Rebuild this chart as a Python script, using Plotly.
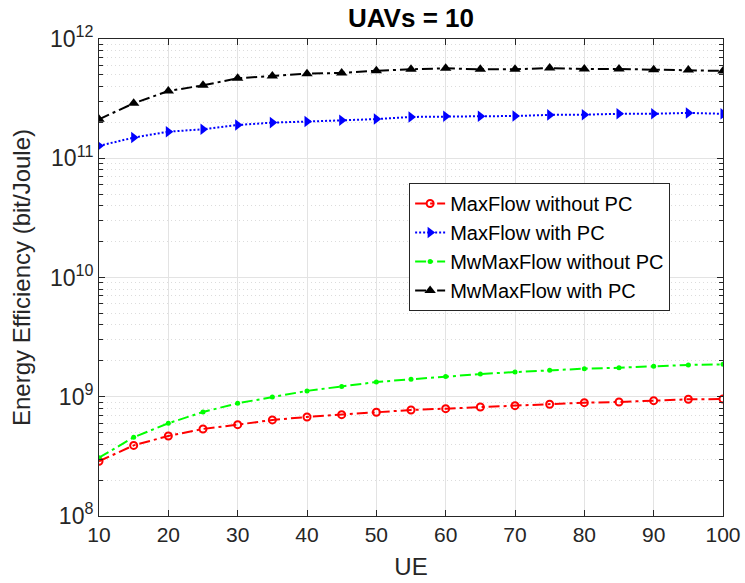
import plotly.graph_objects as go

ue = [10, 15, 20, 25, 30, 35, 40, 45, 50, 55, 60, 65, 70, 75, 80, 85, 90, 95, 100]

maxflow_without_pc = [2.88e8, 3.91e8, 4.69e8, 5.37e8, 5.83e8, 6.39e8, 6.77e8, 7.08e8, 7.41e8, 7.75e8,
                      7.95e8, 8.21e8, 8.42e8, 8.65e8, 8.92e8, 9.04e8, 9.27e8, 9.52e8, 9.57e8]
maxflow_with_pc = [1.27e11, 1.49e11, 1.67e11, 1.75e11, 1.90e11, 1.99e11, 2.03e11, 2.08e11, 2.13e11, 2.22e11,
                   2.25e11, 2.25e11, 2.26e11, 2.31e11, 2.32e11, 2.36e11, 2.36e11, 2.40e11, 2.36e11]
mwmaxflow_without_pc = [3.08e8, 4.57e8, 5.99e8, 7.45e8, 8.81e8, 9.95e8, 1.12e9, 1.22e9, 1.33e9, 1.40e9,
                        1.48e9, 1.55e9, 1.61e9, 1.67e9, 1.72e9, 1.75e9, 1.80e9, 1.85e9, 1.87e9]
mwmaxflow_with_pc = [2.12e11, 2.89e11, 3.66e11, 4.09e11, 4.68e11, 4.89e11, 5.12e11, 5.19e11, 5.42e11, 5.57e11,
                     5.68e11, 5.57e11, 5.57e11, 5.71e11, 5.60e11, 5.60e11, 5.53e11, 5.50e11, 5.40e11]

series_names = ["MaxFlow without PC", "MaxFlow with PC", "MwMaxFlow without PC", "MwMaxFlow with PC"]
title_text = "UAVs = 10"
x_label = "UE"
y_label = "Energy Efficiency (bit/Joule)"
x_ticks = [10, 20, 30, 40, 50, 60, 70, 80, 90, 100]
y_exponents = [8, 9, 10, 11, 12]

FONT = "Liberation Sans, Arial, Helvetica, sans-serif"
AX = "#262626"
DASHDOT = "11px,4px,3px,4px"

fig = go.Figure()
fig.add_trace(go.Scatter(
    x=ue, y=maxflow_without_pc, name=series_names[0], mode="lines+markers",
    line=dict(color="#ff0000", width=2, dash=DASHDOT),
    marker=dict(symbol="circle-open", size=7, color="#ff0000", line=dict(width=2, color="#ff0000"))))
fig.add_trace(go.Scatter(
    x=ue, y=maxflow_with_pc, name=series_names[1], mode="lines+markers",
    line=dict(color="#0000ff", width=2, dash="2px,2px"),
    marker=dict(symbol="triangle-right", size=10, color="#0000ff")))
fig.add_trace(go.Scatter(
    x=ue, y=mwmaxflow_without_pc, name=series_names[2], mode="lines+markers",
    line=dict(color="#00ff00", width=2, dash=DASHDOT),
    marker=dict(symbol="circle", size=5, color="#00ff00")))
fig.add_trace(go.Scatter(
    x=ue, y=mwmaxflow_with_pc, name=series_names[3], mode="lines+markers",
    line=dict(color="#000000", width=2, dash=DASHDOT),
    marker=dict(symbol="triangle-up", size=10, color="#000000")))

minor_vals = [m * 10 ** e for e in y_exponents[:-1] for m in range(2, 10)]

fig.update_layout(
    width=745, height=583,
    margin=dict(l=99, r=22, t=39, b=67, autoexpand=False),
    paper_bgcolor="white", plot_bgcolor="white",
    font=dict(family=FONT, color=AX, size=21),
    title=dict(text="<b>" + title_text + "</b>", x=(99 + 723) / 2 / 745, xanchor="center",
               y=1 - 18 / 583, yanchor="middle", font=dict(size=26, color="#000000")),
    showlegend=True,
    legend=dict(x=0.497, y=0.698, xanchor="left", yanchor="top",
                bgcolor="white", bordercolor=AX, borderwidth=1,
                font=dict(size=20, color="#000000"), tracegroupgap=0),
    xaxis=dict(range=[10, 100], tickvals=x_ticks, ticktext=[str(t) for t in x_ticks],
               automargin=False,
               ticks="inside", ticklen=6, tickcolor=AX, showline=True, linecolor=AX, linewidth=1,
               mirror="ticks", showgrid=True, gridcolor="#e3e3e3", gridwidth=1, zeroline=False,
               tickfont=dict(size=21, color=AX),
               title=dict(text=x_label, font=dict(size=24, color=AX), standoff=12)),
    yaxis=dict(type="log", range=[8, 12], tickvals=[10 ** e for e in y_exponents],
               ticktext=["10<sup>%d</sup>" % e for e in y_exponents],
               automargin=False,
               ticks="inside", ticklen=6, tickcolor=AX, showline=True, linecolor=AX, linewidth=1,
               mirror="allticks", showgrid=True, gridcolor="#e3e3e3", gridwidth=1, zeroline=False,
               tickfont=dict(size=23, color=AX),
               minor=dict(tickvals=minor_vals, ticks="inside", ticklen=4, tickcolor=AX,
                          showgrid=True, gridcolor="#dcdcdc", griddash="1px,3px", gridwidth=1),
               title=dict(text=y_label, font=dict(size=24, color=AX), standoff=12)),
)

fig.write_html("out.html")
